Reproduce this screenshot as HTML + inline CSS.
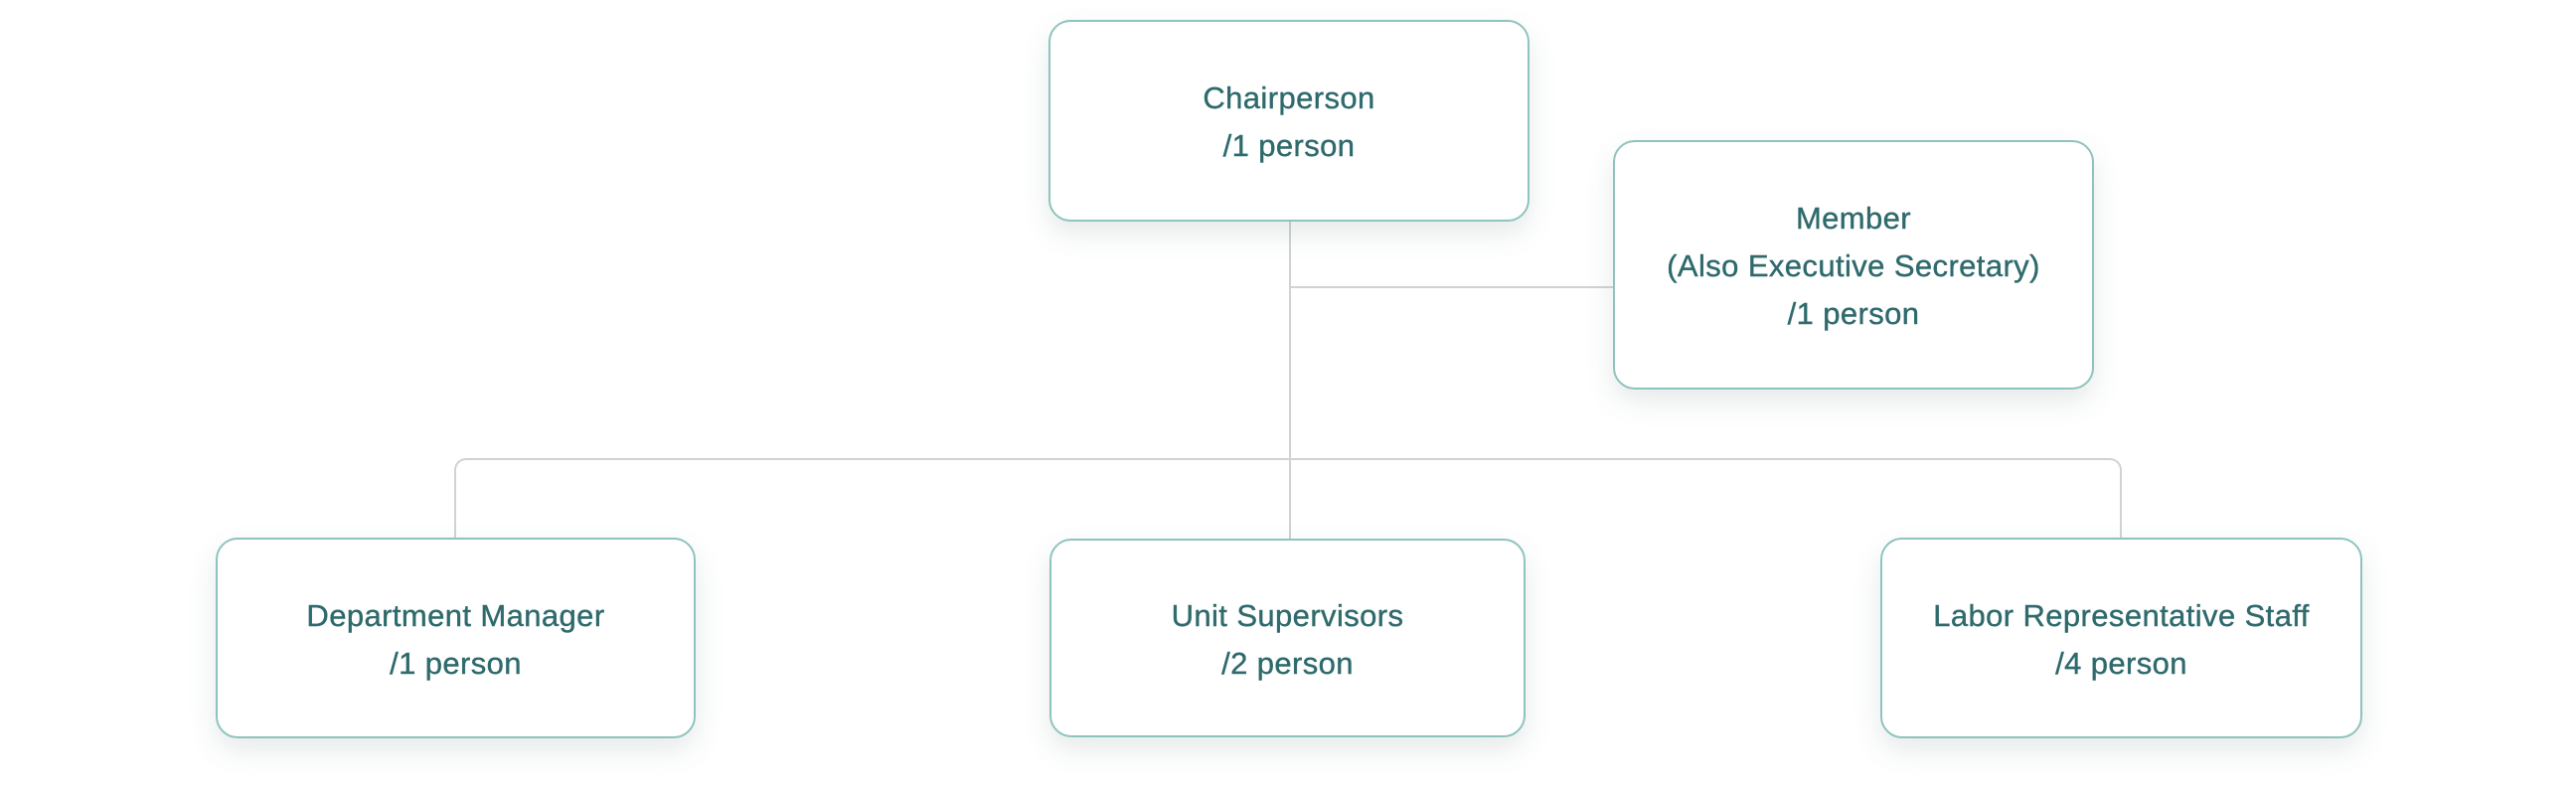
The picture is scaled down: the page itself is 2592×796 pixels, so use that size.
<!DOCTYPE html>
<html><head><meta charset="utf-8"><style>
html,body{margin:0;padding:0;background:#fff;width:2592px;height:796px;overflow:hidden;position:relative;font-family:"Liberation Sans",sans-serif;}
.l{position:absolute;background:#cfd3d3;}
.b{position:absolute;box-sizing:border-box;border:2px solid #8fc3bd;border-radius:22px;background:#fff;box-shadow:0 12px 28px rgba(60,90,90,0.13);display:flex;align-items:center;justify-content:center;text-align:center;color:#2f6a6c;font-size:31px;line-height:48px;letter-spacing:0.4px;-webkit-text-stroke:0.4px #2f6a6c;padding-top:3px;}
</style></head><body>
<div class="l" style="left:1297px;top:222px;width:2px;height:320px"></div>
<div class="l" style="left:1298px;top:288px;width:330px;height:2px"></div>
<div style="position:absolute;left:457px;top:461px;width:1678px;height:82px;box-sizing:border-box;border:2px solid #cfd3d3;border-bottom:none;border-radius:12px 12px 0 0"></div>
<div class="b" style="left:1055px;top:20px;width:484px;height:203px">Chairperson<br>/1 person</div>
<div class="b" style="left:1623px;top:141px;width:484px;height:251px">Member<br>(Also Executive Secretary)<br>/1 person</div>
<div class="b" style="left:217px;top:541px;width:483px;height:202px">Department Manager<br>/1 person</div>
<div class="b" style="left:1056px;top:542px;width:479px;height:200px">Unit Supervisors<br>/2 person</div>
<div class="b" style="left:1892px;top:541px;width:485px;height:202px">Labor Representative Staff<br>/4 person</div>
</body></html>
